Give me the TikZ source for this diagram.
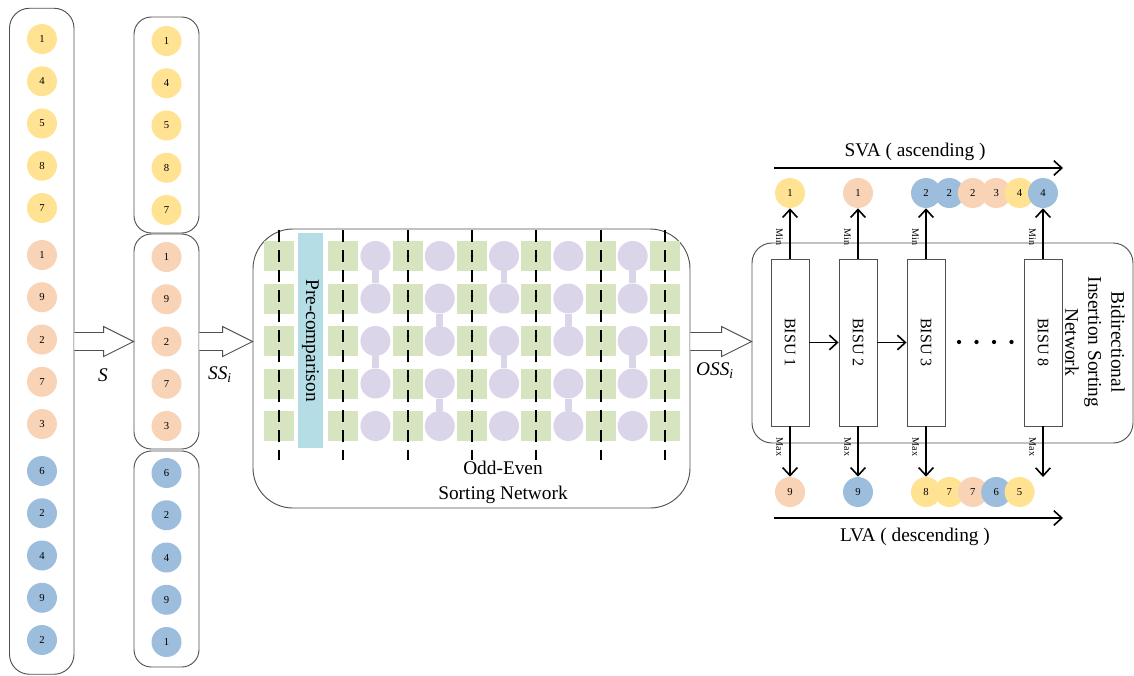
\documentclass[tikz,border=0pt]{standalone}
\usepackage{fontspec}
\setmainfont{Liberation Serif}
\usetikzlibrary{arrows.meta,calc}
\definecolor{cy}{HTML}{FFE393}
\definecolor{cs}{HTML}{F8D3B6}
\definecolor{cb}{HTML}{9DBDDC}
\definecolor{cg}{HTML}{D7E4C0}
\definecolor{cp}{HTML}{DAD5E8}
\definecolor{cpre}{HTML}{B5DDE6}
\definecolor{edge}{HTML}{505050}
\newcommand\blockarrow[2]{%
  \draw[draw=edge,fill=white,line width=0.7pt] let \p1=(#1), \p2=(#2) in
    (\x1,\y1+6.75pt) -- (\x2-22.5pt,\y1+6.75pt) -- (\x2-22.5pt,\y1+11.25pt) -- (\x2,\y1)
    -- (\x2-22.5pt,\y1-11.25pt) -- (\x2-22.5pt,\y1-6.75pt) -- (\x1,\y1-6.75pt);}
\begin{document}
\begin{tikzpicture}[x=0.75pt,y=-0.75pt,
  ball/.style={circle,minimum size=22.5pt,inner sep=0pt,font=\fontsize{8}{9}\selectfont},
  grp/.style={draw=edge,line width=0.7pt,fill=none,inner sep=0pt},
  sq/.style={fill=cg,minimum size=22.5pt,inner sep=0pt},
  pb/.style={circle,fill=cp,minimum size=22.5pt,inner sep=0pt},
  neck/.style={draw=cp,line width=5pt},
  dline/.style={line width=1.5pt,dash pattern=on 9pt off 6pt},
  bisu/.style={draw=edge,fill=white,line width=0.7pt,rotate=-90,minimum width=125.25pt,minimum height=28.5pt,inner sep=0pt,font=\fontsize{12}{14}\selectfont},
  arr/.style={line width=1.2pt,-{Straight Barb[length=6pt,width=11pt,line width=1.2pt]}},
  big/.style={font=\fontsize{14.5}{18.75}\selectfont},
  tiny/.style={rotate=-90,font=\fontsize{7.5}{9}\selectfont,inner sep=0pt},
]
\useasboundingbox (0,0) rectangle (1134,675);
% ---------- input sequence S ----------
\node[grp,rounded corners=15pt,minimum width=48.4pt,minimum height=499.5pt] (L) at (41.75,341.25) {};
\foreach \v/\c [count=\i] in {1/cy,4/cy,5/cy,8/cy,7/cy,1/cs,9/cs,2/cs,7/cs,3/cs,6/cb,2/cb,4/cb,9/cb,2/cb}{
  \pgfmathsetmacro\yy{39+42.25*(\i-1)+4.75*int((\i-1)/5)}
  \node[ball,fill=\c] (l\i) at (42,\yy) {\v};
}
% ---------- sub-sequences SS_i ----------
\node[grp,rounded corners=13pt,minimum width=48.75pt,minimum height=162pt] (M1) at (166.5,125) {};
\node[grp,rounded corners=13pt,minimum width=48.75pt,minimum height=161.25pt] (M2) at (166.5,341.5) {};
\node[grp,rounded corners=13pt,minimum width=48.75pt,minimum height=162pt] (M3) at (166.5,559) {};
\foreach \v/\c [count=\i] in {1/cy,4/cy,5/cy,8/cy,7/cy,1/cs,9/cs,2/cs,7/cs,3/cs,6/cb,2/cb,4/cb,9/cb,1/cb}{
  \pgfmathsetmacro\yy{41+42.25*(\i-1)+4.75*int((\i-1)/5)}
  \node[ball,fill=\c] (m\i) at (166.5,\yy) {\v};
}
% ---------- odd-even sorting network ----------
\node[grp,rounded corners=30pt,minimum width=327.75pt,minimum height=209.25pt] (OE) at (471.5,368.5) {};
\foreach \k in {0,...,6}{
  \pgfmathsetmacro\xx{279+64.3*\k}
  \foreach \r in {0,...,4}{
    \node[sq] (g\k-\r) at (\xx,256+42.5*\r) {};
  }
  \coordinate (dt\k) at (\xx,230);
  \coordinate (db\k) at (\xx,460);
}
\node[fill=cpre,rotate=-90,minimum width=161.25pt,minimum height=18.75pt,inner sep=0pt,big] (pre) at (310.5,340.5) {Pre-comparison};
% purple comparators
\foreach \k/\pat in {0/a,1/b,2/a,3/b,4/a}{
  \pgfmathsetmacro\xx{375.45+64.3*\k}
  \foreach \r in {0,...,4}{
    \node[pb] (p\k-\r) at (\xx,256+42.5*\r) {};
  }
}
\foreach \k in {0,2,4}{
  \draw[neck] (p\k-0) -- (p\k-1);
  \draw[neck] (p\k-2) -- (p\k-3);
}
\foreach \k in {1,3}{
  \draw[neck] (p\k-1) -- (p\k-2);
  \draw[neck] (p\k-3) -- (p\k-4);
}
\foreach \k in {0,...,6}{
  \draw[dline] (dt\k) -- (db\k);
}
\node[big,align=center] (oetxt) at (503,482.5) {Odd-Even\\Sorting Network};
% ---------- block arrows ----------
\coordinate (a1s) at (L.east |- M2.west);
\coordinate (a2e) at (M2.east -| OE.west);
\coordinate (a3s) at (OE.east |- M2.east);
\node[grp,rounded corners=15pt,minimum width=285.75pt,minimum height=150pt] (BI) at (942.5,343) {};
\coordinate (a3e) at (BI.west |- M2.east);
\blockarrow{a1s}{M2.west}
\blockarrow{M2.east}{a2e}
\blockarrow{a3s}{a3e}
\node[big,font=\fontsize{14.5}{18}\itshape] (lS) at (103,375) {S};
\node[big,font=\fontsize{14.5}{18}\itshape] (lSS) at (220,375) {SS\textsubscript{\textit{i}}};
\node[big,font=\fontsize{14.5}{18}\itshape] (lOSS) at (715,371) {OSS\textsubscript{\textit{i}}};
% ---------- bidirectional insertion sorting network ----------
\node[bisu] (B1) at (790,342.5) {BISU 1};
\node[bisu] (B2) at (858,342.5) {BISU 2};
\node[bisu] (B3) at (926,342.5) {BISU 3};
\node[bisu] (B8) at (1043,342.5) {BISU 8};
\node[big,rotate=-90,align=center,font=\fontsize{14.5}{17.25}\selectfont] (BItxt) at (1095,342) {Bidirectional\\Insertion Sorting\\Network};
\draw[arr] (B1) -- (B2);
\draw[arr] (B2) -- (B3);
\foreach \i/\xx in {1/959,2/976.5,3/994,4/1011.5}{
  \fill (\xx,342) circle (1.6pt);
}
\foreach \v/\c/\xx [count=\i] in {1/cy/790,1/cs/858,2/cb/926,2/cb/949.4,2/cs/972.8,3/cs/996.2,4/cy/1019.6,4/cb/1043}{
  \node[ball,fill=\c] (t\i) at (\xx,193) {\v};
}
\foreach \v/\c/\xx [count=\i] in {9/cs/790,9/cb/858,8/cy/926,7/cy/949.4,7/cs/972.8,6/cb/996.2,5/cy/1019.6}{
  \node[ball,fill=\c] (u\i) at (\xx,492) {\v};
}
\coordinate (e8) at (1043,477);
\draw[arr] (B1) -- (t1);
\draw[arr] (B2) -- (t2);
\draw[arr] (B3) -- (t3);
\draw[arr] (B8) -- (t8);
\draw[arr] (B1) -- (u1);
\draw[arr] (B2) -- (u2);
\draw[arr] (B3) -- (u3);
\draw[arr] (B8) -- (e8);
\foreach \xx [count=\i] in {790,858,926,1043}{
  \node[tiny] (min\i) at (\xx-10.5,237) {Min};
  \node[tiny] (max\i) at (\xx-10.5,447) {Max};
}
\coordinate (svs) at (774,168);
\coordinate (sve) at (1063,168);
\coordinate (lvs) at (774,518);
\coordinate (lve) at (1063,518);
\draw[arr] (svs) -- (sve);
\draw[arr] (lvs) -- (lve);
\node[big] (svat) at (915,152) {SVA ( ascending )};
\node[big] (lvat) at (915,537) {LVA ( descending )};
\end{tikzpicture}
\end{document}
